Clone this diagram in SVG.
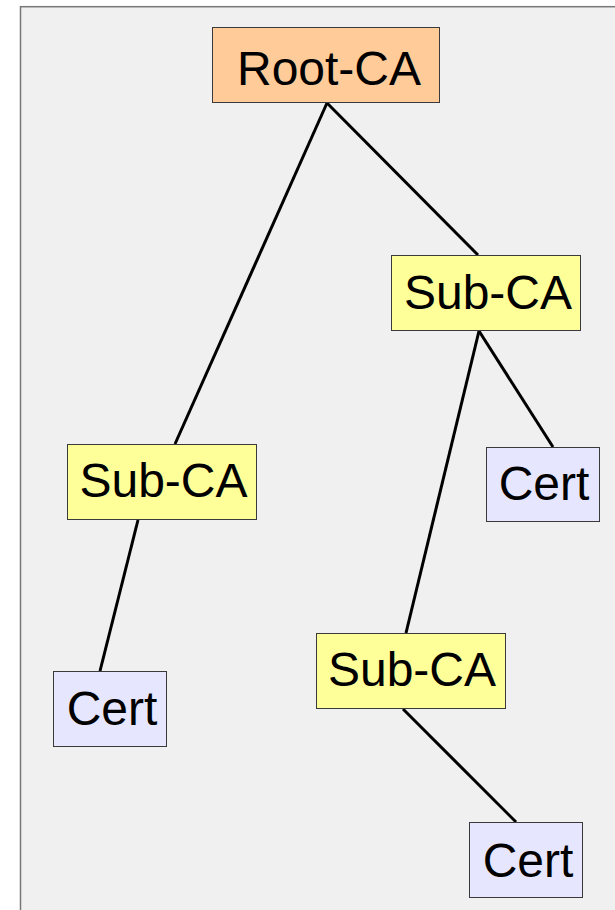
<svg xmlns="http://www.w3.org/2000/svg" width="615" height="910" viewBox="0 0 615 910">
<style>
.box{stroke:#3a3a3a;stroke-width:1}
.root{fill:#ffcc99}
.sub{fill:#ffff99}
.cert{fill:#e6e6ff}
.lbl{font-family:"Liberation Sans",Arial,sans-serif;font-size:48px;fill:#000;text-anchor:middle}
.edge{stroke:#000;stroke-width:3;fill:none}
</style>
<rect x="0" y="0" width="615" height="910" fill="#ffffff"/>
<rect x="20.5" y="6.7" width="610" height="920" fill="#f0f0f0" stroke="#777" stroke-width="1.5"/>
<g id="connectors">
<line class="edge" x1="327" y1="103" x2="175" y2="444"/>
<line class="edge" x1="327" y1="103" x2="478" y2="255"/>
<line class="edge" x1="479" y1="331" x2="553" y2="447"/>
<line class="edge" x1="479" y1="331" x2="406" y2="633"/>
<line class="edge" x1="138" y1="520" x2="100" y2="671"/>
<line class="edge" x1="403" y1="709" x2="516" y2="822"/>
</g>
<g id="root-ca">
<rect class="box root" x="212.5" y="27.5" width="227" height="75"/>
<text class="lbl" x="329" y="85">Root-CA</text>
</g>
<g id="sub-ca-right">
<rect class="box sub" x="391.5" y="255.5" width="189" height="75"/>
<text class="lbl" x="488" y="309">Sub-CA</text>
</g>
<g id="sub-ca-left">
<rect class="box sub" x="67.5" y="444.5" width="189" height="75"/>
<text class="lbl" x="163.5" y="497">Sub-CA</text>
</g>
<g id="cert-right">
<rect class="box cert" x="486.5" y="447.5" width="113" height="74"/>
<text class="lbl" x="544" y="500">Cert</text>
</g>
<g id="cert-left">
<rect class="box cert" x="53.5" y="671.5" width="113" height="75"/>
<text class="lbl" x="112" y="725">Cert</text>
</g>
<g id="sub-ca-bottom">
<rect class="box sub" x="316.5" y="633.5" width="189" height="75"/>
<text class="lbl" x="412" y="686">Sub-CA</text>
</g>
<g id="cert-bottom">
<rect class="box cert" x="469.5" y="822.5" width="113" height="75"/>
<text class="lbl" x="528" y="877">Cert</text>
</g>
</svg>
